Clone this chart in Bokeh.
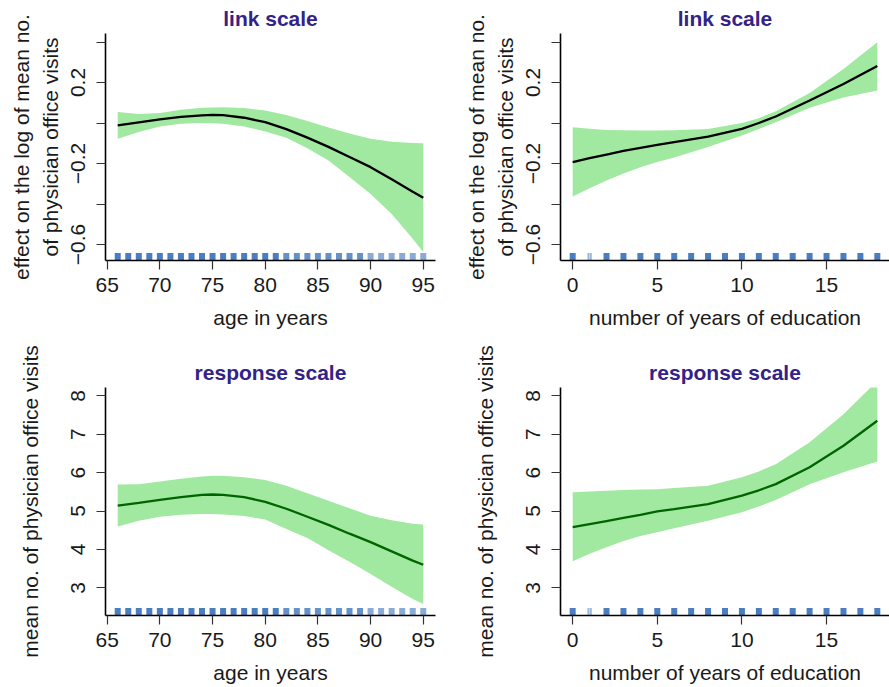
from bokeh.plotting import figure
from bokeh.layouts import column, row
from bokeh.models import FixedTicker, Range1d
from bokeh.embed import file_html
from bokeh.resources import INLINE

# ---------------- data ----------------
age = [66, 68, 70, 72, 74, 75, 76, 78, 80, 82, 84, 86, 88, 90, 92, 94, 95]
link_age_fit = [-0.012, 0.003, 0.018, 0.030, 0.038, 0.040, 0.039, 0.026, 0.004,
                -0.030, -0.072, -0.118, -0.168, -0.218, -0.278, -0.339, -0.369]
link_age_hi = [0.054, 0.044, 0.050, 0.065, 0.075, 0.077, 0.078, 0.074, 0.062,
               0.040, 0.010, -0.022, -0.052, -0.078, -0.093, -0.099, -0.100]
link_age_lo = [-0.078, -0.045, -0.017, -0.004, 0.000, -0.001, -0.004, -0.017, -0.042,
               -0.073, -0.125, -0.185, -0.267, -0.350, -0.449, -0.572, -0.638]

resp_age_fit = [5.14, 5.21, 5.29, 5.36, 5.42, 5.43, 5.42, 5.36, 5.24,
                5.06, 4.85, 4.64, 4.41, 4.19, 3.95, 3.71, 3.60]
resp_age_hi = [5.69, 5.70, 5.77, 5.84, 5.90, 5.92, 5.92, 5.88, 5.81,
               5.66, 5.46, 5.27, 5.07, 4.88, 4.76, 4.67, 4.65]
resp_age_lo = [4.60, 4.75, 4.85, 4.90, 4.92, 4.92, 4.91, 4.87, 4.78,
               4.53, 4.30, 3.98, 3.68, 3.36, 3.03, 2.71, 2.58]

edu = [0, 1, 2, 3, 4, 5, 6, 8, 10, 11, 12, 14, 16, 18]
link_edu_fit = [-0.193, -0.174, -0.156, -0.138, -0.123, -0.108, -0.094, -0.067,
                -0.029, 0.000, 0.032, 0.111, 0.193, 0.281]
link_edu_hi = [-0.021, -0.028, -0.034, -0.036, -0.037, -0.037, -0.036, -0.029,
               0.000, 0.024, 0.058, 0.148, 0.267, 0.399]
link_edu_lo = [-0.363, -0.322, -0.284, -0.249, -0.218, -0.193, -0.170, -0.119,
               -0.062, -0.030, 0.004, 0.075, 0.126, 0.160]

resp_edu_fit = [4.58, 4.66, 4.74, 4.82, 4.90, 4.99, 5.05, 5.18, 5.40, 5.54, 5.70, 6.14, 6.70, 7.35]
resp_edu_hi = [5.49, 5.51, 5.53, 5.55, 5.56, 5.57, 5.60, 5.66, 5.88, 6.03, 6.22, 6.79, 7.52, 8.39]
resp_edu_lo = [3.69, 3.89, 4.06, 4.22, 4.35, 4.45, 4.55, 4.75, 4.97, 5.12, 5.29, 5.70, 6.01, 6.29]

# rug (observed values)
rug_age = list(range(66, 96))
rug_age_alpha = [1.0] * 16 + [0.85] * 8 + [0.65] * 6
rug_edu = [0, 0.93, 1.07] + list(range(2, 19))
rug_edu_w = [6, 2, 2] + [6] * 17
rug_edu_alpha = [1.0, 0.55, 0.55] + [1.0] * 17

age_ticks = [65, 70, 75, 80, 85, 90, 95]
edu_ticks = [0, 5, 10, 15]
link_ticks = [-0.6, -0.2, 0.2]
link_minor = [-0.4, 0.0, 0.4]
link_tick_labels = {-0.6: "\u22120.6", -0.2: "\u22120.2", 0.2: "0.2"}
resp_ticks = [3, 4, 5, 6, 7, 8]

# ---------------- style ----------------
FONT = "Liberation Sans"
FS = "21px"
TXT = "#1a1a1a"
BAND = "#a1e9a0"
RUG = "#4a7ebf"
TITLE_COL = "#332288"


def panel(x, fit, lo, hi, xr, yr, xticks, yticks, yminor, ylab_over, title, xlabel,
          ylabel, line_color, rug_x, rug_w, rug_a, width, height, bl, br, bt, bb,
          ylab_standoff):
    p = figure(width=width, height=height, x_range=Range1d(*xr), y_range=Range1d(*yr),
               output_backend="svg", toolbar_location=None,
               min_border_left=bl, min_border_right=br, min_border_top=bt,
               min_border_bottom=bb)
    p.outline_line_color = None
    p.grid.visible = False
    p.background_fill_color = "white"
    p.border_fill_color = "white"

    # band, line
    p.varea(x=x, y1=lo, y2=hi, fill_color=BAND, fill_alpha=1.0)
    p.line(x=x, y=fit, line_color=line_color, line_width=2.3)

    # rug
    ppu = (height - bt - bb) / (yr[1] - yr[0])
    ry = [yr[0] + 3.8 / ppu] * len(rug_x)
    p.rect(x=rug_x, y=ry, width=rug_w, height=7.6, width_units="screen",
           height_units="screen", fill_color=RUG, fill_alpha=rug_a, line_color=None)

    # title
    p.title.text = title
    p.title.align = "center"
    p.title.text_font = FONT
    p.title.text_font_size = FS
    p.title.text_font_style = "bold"
    p.title.text_color = TITLE_COL
    p.title.standoff = 8

    for ax in (p.xaxis[0], p.yaxis[0]):
        ax.axis_line_color = "black"
        ax.axis_line_width = 1.6
        ax.major_tick_line_color = "#333333"
        ax.major_tick_line_width = 1.2
        ax.major_tick_out = 9
        ax.major_tick_in = 0
        ax.minor_tick_line_color = "#333333"
        ax.minor_tick_line_width = 1.2
        ax.minor_tick_out = 9
        ax.minor_tick_in = 0
        ax.major_label_text_font = FONT
        ax.major_label_text_font_size = FS
        ax.major_label_text_color = TXT
        ax.axis_label_text_font = FONT
        ax.axis_label_text_font_size = FS
        ax.axis_label_text_font_style = "normal"
        ax.axis_label_text_color = TXT

    xa = p.xaxis[0]
    xa.ticker = FixedTicker(ticks=xticks, minor_ticks=[])
    xa.major_label_standoff = 8
    xa.axis_label = xlabel
    xa.axis_label_standoff = 11

    ya = p.yaxis[0]
    ya.ticker = FixedTicker(ticks=yticks, minor_ticks=yminor)
    if ylab_over:
        ya.major_label_overrides = ylab_over
    ya.major_label_orientation = "vertical"
    ya.major_label_standoff = 11
    ya.axis_label = ylabel
    ya.axis_label_standoff = ylab_standoff
    ya.axis_label_text_line_height = 1.25
    return p


age_range = (64.84, 96.16)
edu_range = (-0.72, 18.72)
link_range = (-0.679, 0.442)
resp_range = (2.28, 8.216)

p1 = panel(age, link_age_fit, link_age_lo, link_age_hi, age_range, link_range,
           age_ticks, link_ticks, link_minor, link_tick_labels, "link scale",
           "age in years", "effect on the log of mean no.\nof physician office visits",
           "black", rug_age, [6] * len(rug_age), rug_age_alpha,
           445, 340, 105, 10, 33, 80, 7)
p2 = panel(edu, link_edu_fit, link_edu_lo, link_edu_hi, edu_range, link_range,
           edu_ticks, link_ticks, link_minor, link_tick_labels, "link scale",
           "number of years of education",
           "effect on the log of mean no.\nof physician office visits",
           "black", rug_edu, rug_edu_w, rug_edu_alpha,
           444, 340, 115, 0, 33, 80, 7)
p3 = panel(age, resp_age_fit, resp_age_lo, resp_age_hi, age_range, resp_range,
           age_ticks, resp_ticks, [], None, "response scale",
           "age in years", "mean no. of physician office visits",
           "#006400", rug_age, [6] * len(rug_age), rug_age_alpha,
           445, 347, 105, 10, 47, 72, 27)
p4 = panel(edu, resp_edu_fit, resp_edu_lo, resp_edu_hi, edu_range, resp_range,
           edu_ticks, resp_ticks, [], None, "response scale",
           "number of years of education", "mean no. of physician office visits",
           "#006400", rug_edu, rug_edu_w, rug_edu_alpha,
           444, 347, 115, 0, 47, 72, 27)

layout = column(row(p1, p2), row(p3, p4))
open("out.html", "w").write(file_html(layout, INLINE))
